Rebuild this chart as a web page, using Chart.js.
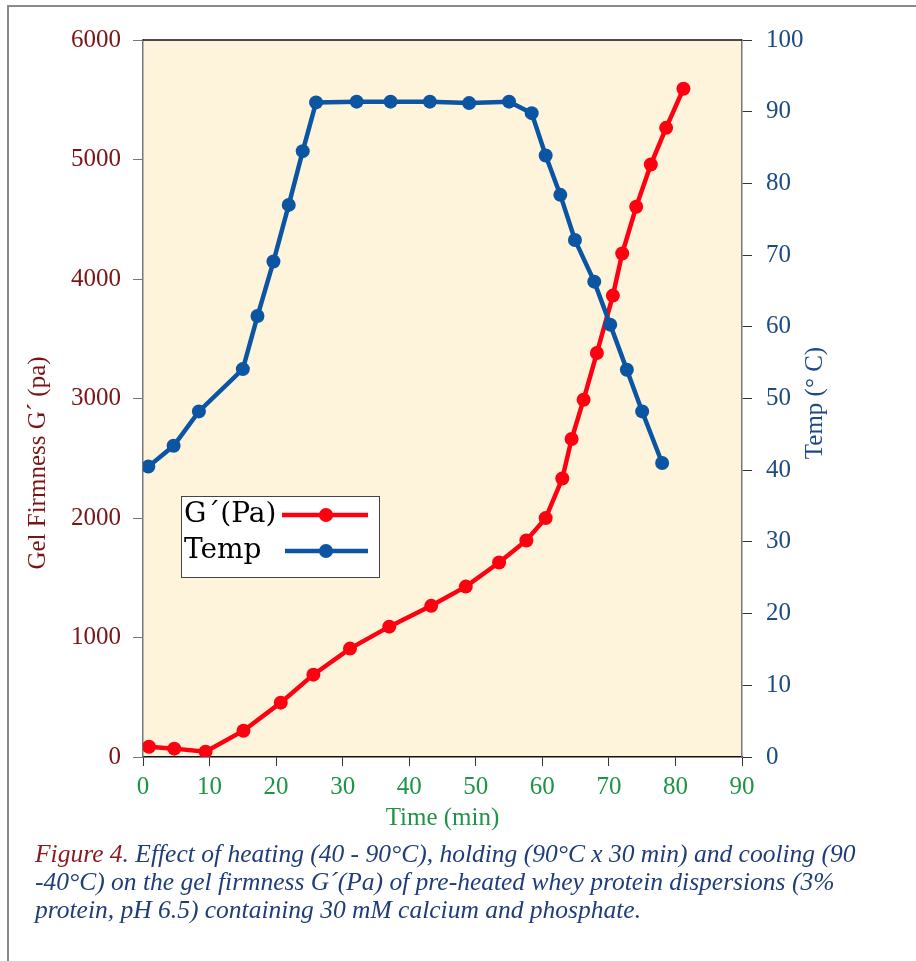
<!DOCTYPE html>
<html>
<head>
<meta charset="utf-8">
<script src="https://cdn.jsdelivr.net/npm/chart.js@4.4.1/dist/chart.umd.min.js"></script>
<style>
  html, body { margin: 0; padding: 0; background: #ffffff; }
  #page { position: relative; width: 916px; height: 961px; overflow: hidden; }
  #frame { position: absolute; left: 7px; top: 5px; right: -10px; bottom: -10px;
           border-left: 2px solid #8a8a8a; border-top: 2px solid #8a8a8a; }
  #chart { position: absolute; left: 0; top: 0; }
  #caption { position: absolute; left: 35px; top: 840px; width: 878px;
             font-family: "Liberation Serif", serif; font-style: italic; font-size: 25.5px;
             line-height: 28px; color: #1f3d7a; white-space: nowrap; }
  #caption .fig { color: #8b1a1f; }
</style>
</head>
<body>
<div id="page">
  <div id="frame"></div>
  <canvas id="chart" width="916" height="840"></canvas>
  <div id="caption">
    <div><span class="fig">Figure 4</span>. Effect of heating (40 - 90°C), holding (90°C x 30 min) and cooling (90</div>
    <div>-40°C) on the gel firmness G´(Pa) of pre-heated whey protein dispersions (3%</div>
    <div>protein, pH 6.5) containing 30 mM calcium and phosphate.</div>
  </div>
</div>
<script>
// Time (min) of each gel firmness reading and the measured G' (Pa)
const gTime   = [0.9, 4.7, 9.4, 15.1, 20.7, 25.6, 31.1, 37.0, 43.3, 48.5, 53.5, 57.6,
                 60.5, 63.0, 64.4, 66.2, 68.2, 70.6, 72.0, 74.1, 76.3, 78.6, 81.2];
const gValues = [86, 70, 44, 220, 455, 689, 907, 1091, 1265, 1426, 1627, 1812,
                 1999, 2330, 2661, 2990, 3381, 3861, 4213, 4604, 4958, 5265, 5592];

// Time (min) of each temperature reading and the temperature (°C)
const tempTime   = [0.8, 4.6, 8.4, 15.0, 17.2, 19.6, 21.9, 24.0, 26.0, 32.1, 37.2, 43.1,
                    49.0, 55.0, 58.4, 60.5, 62.7, 64.9, 67.8, 70.2, 72.7, 75.0, 78.0];
const tempValues = [40.5, 43.4, 48.2, 54.1, 61.5, 69.1, 77.0, 84.5, 91.3, 91.4, 91.4, 91.4,
                    91.2, 91.4, 89.8, 83.9, 78.4, 72.1, 66.3, 60.3, 54.0, 48.2, 41.0];

// Axis ranges and tick steps
const timeTicks = [0, 90, 10];
const gTicks    = [0, 6000, 1000];
const tempTicks = [0, 100, 10];

const seriesLabels = ["G´(Pa)", "Temp"];
const axisTitles = { x: "Time (min)", y: "Gel Firmness G´ (pa)", y1: "Temp (° C)" };

const RED = "#ff0010";
const BLUE = "#0b55a3";
const SERIF = "'Liberation Serif', serif";

const toPoints = (xs, ys) => xs.map((x, i) => ({ x: x, y: ys[i] }));
const plainNumber = v => String(v);

// Cream plot background plus the black frame line along the top
const plotBackground = {
  id: "plotBackground",
  beforeDraw(chart) {
    const { ctx, chartArea: a } = chart;
    ctx.save();
    ctx.fillStyle = "#fef4dc";
    ctx.fillRect(a.left, a.top, a.right - a.left, a.bottom - a.top);
    ctx.restore();
  },
  afterDraw(chart) {
    const { ctx, chartArea: a } = chart;
    ctx.save();
    ctx.strokeStyle = "#111111";
    ctx.lineWidth = 1.5;
    ctx.beginPath();
    ctx.moveTo(a.left, a.top);
    ctx.lineTo(a.right, a.top);
    ctx.stroke();
    ctx.restore();
  }
};

// Vertical axis titles, both reading bottom-to-top
const sideTitles = {
  id: "sideTitles",
  afterDraw(chart) {
    const { ctx } = chart;
    const items = [
      { text: axisTitles.y, x: 38, y: 463, color: "#7b1416" },
      { text: axisTitles.y1, x: 815, y: 403, color: "#1b4a85" }
    ];
    items.forEach(t => {
      ctx.save();
      ctx.translate(t.x, t.y);
      ctx.rotate(-Math.PI / 2);
      ctx.font = "25px " + SERIF;
      ctx.fillStyle = t.color;
      ctx.textAlign = "center";
      ctx.textBaseline = "middle";
      ctx.fillText(t.text, 0, 0);
      ctx.restore();
    });
  }
};

// Boxed legend inside the plot area
const boxLegend = {
  id: "boxLegend",
  afterDraw(chart) {
    const { ctx } = chart;
    const box = { x: 181, y: 496, w: 198, h: 81 };
    ctx.save();
    ctx.fillStyle = "#ffffff";
    ctx.fillRect(box.x, box.y, box.w, box.h);
    ctx.strokeStyle = "#444444";
    ctx.lineWidth = 1;
    ctx.strokeRect(box.x + 0.5, box.y + 0.5, box.w, box.h);
    const rows = [
      { label: chart.data.datasets[0].label, color: RED, y: 515, x0: 282 },
      { label: chart.data.datasets[1].label, color: BLUE, y: 551, x0: 285 }
    ];
    ctx.font = "28px 'DejaVu Serif', serif";
    ctx.textBaseline = "middle";
    rows.forEach(r => {
      ctx.fillStyle = "#000000";
      ctx.fillText(r.label, 184, r.y);
      ctx.strokeStyle = r.color;
      ctx.lineWidth = 4.5;
      ctx.beginPath();
      ctx.moveTo(r.x0, r.y);
      ctx.lineTo(368, r.y);
      ctx.stroke();
      ctx.fillStyle = r.color;
      ctx.beginPath();
      ctx.arc(326, r.y, 7, 0, Math.PI * 2);
      ctx.fill();
    });
    ctx.restore();
  }
};

new Chart(document.getElementById("chart"), {
  type: "line",
  data: {
    datasets: [
      {
        label: seriesLabels[0],
        data: toPoints(gTime, gValues),
        yAxisID: "y",
        borderColor: RED,
        backgroundColor: RED,
        borderWidth: 4.5,
        pointRadius: 7,
        pointBorderWidth: 0,
        pointBackgroundColor: RED,
        tension: 0,
        order: 1
      },
      {
        label: seriesLabels[1],
        data: toPoints(tempTime, tempValues),
        yAxisID: "y1",
        borderColor: BLUE,
        backgroundColor: BLUE,
        borderWidth: 4.5,
        pointRadius: 7,
        pointBorderWidth: 0,
        pointBackgroundColor: BLUE,
        tension: 0,
        order: 0
      }
    ]
  },
  options: {
    responsive: false,
    animation: false,
    devicePixelRatio: 1,
    layout: { padding: { top: 40, left: 0, right: 0, bottom: 0 } },
    plugins: { legend: { display: false }, tooltip: { enabled: false } },
    scales: {
      x: {
        type: "linear",
        min: timeTicks[0], max: timeTicks[1],
        ticks: { stepSize: timeTicks[2], color: "#1e9447", padding: 6,
                 font: { family: SERIF, size: 25 }, callback: plainNumber },
        grid: { drawOnChartArea: false, tickLength: 9, color: "#333333" },
        border: { color: "#111111", width: 1.5 },
        title: { display: true, text: axisTitles.x, color: "#1e9447",
                 font: { family: SERIF, size: 25 }, padding: { top: 0, bottom: 7 } },
        afterFit(s) { s.height = 83; }
      },
      y: {
        type: "linear",
        position: "left",
        min: gTicks[0], max: gTicks[1],
        ticks: { stepSize: gTicks[2], color: "#7b1416", padding: 12,
                 font: { family: SERIF, size: 25 }, callback: plainNumber },
        grid: { drawOnChartArea: false, tickLength: 10, color: "#777777" },
        border: { color: "#777777", width: 1.5 },
        afterFit(s) { s.width = 143; }
      },
      y1: {
        type: "linear",
        position: "right",
        min: tempTicks[0], max: tempTicks[1],
        ticks: { stepSize: tempTicks[2], color: "#1b4a85", padding: 14,
                 font: { family: SERIF, size: 25 }, callback: plainNumber },
        grid: { drawOnChartArea: false, tickLength: 10, color: "#333333" },
        border: { color: "#777777", width: 1.5 },
        afterFit(s) { s.width = 174; }
      }
    }
  },
  plugins: [plotBackground, sideTitles, boxLegend]
});
</script>
</body>
</html>
